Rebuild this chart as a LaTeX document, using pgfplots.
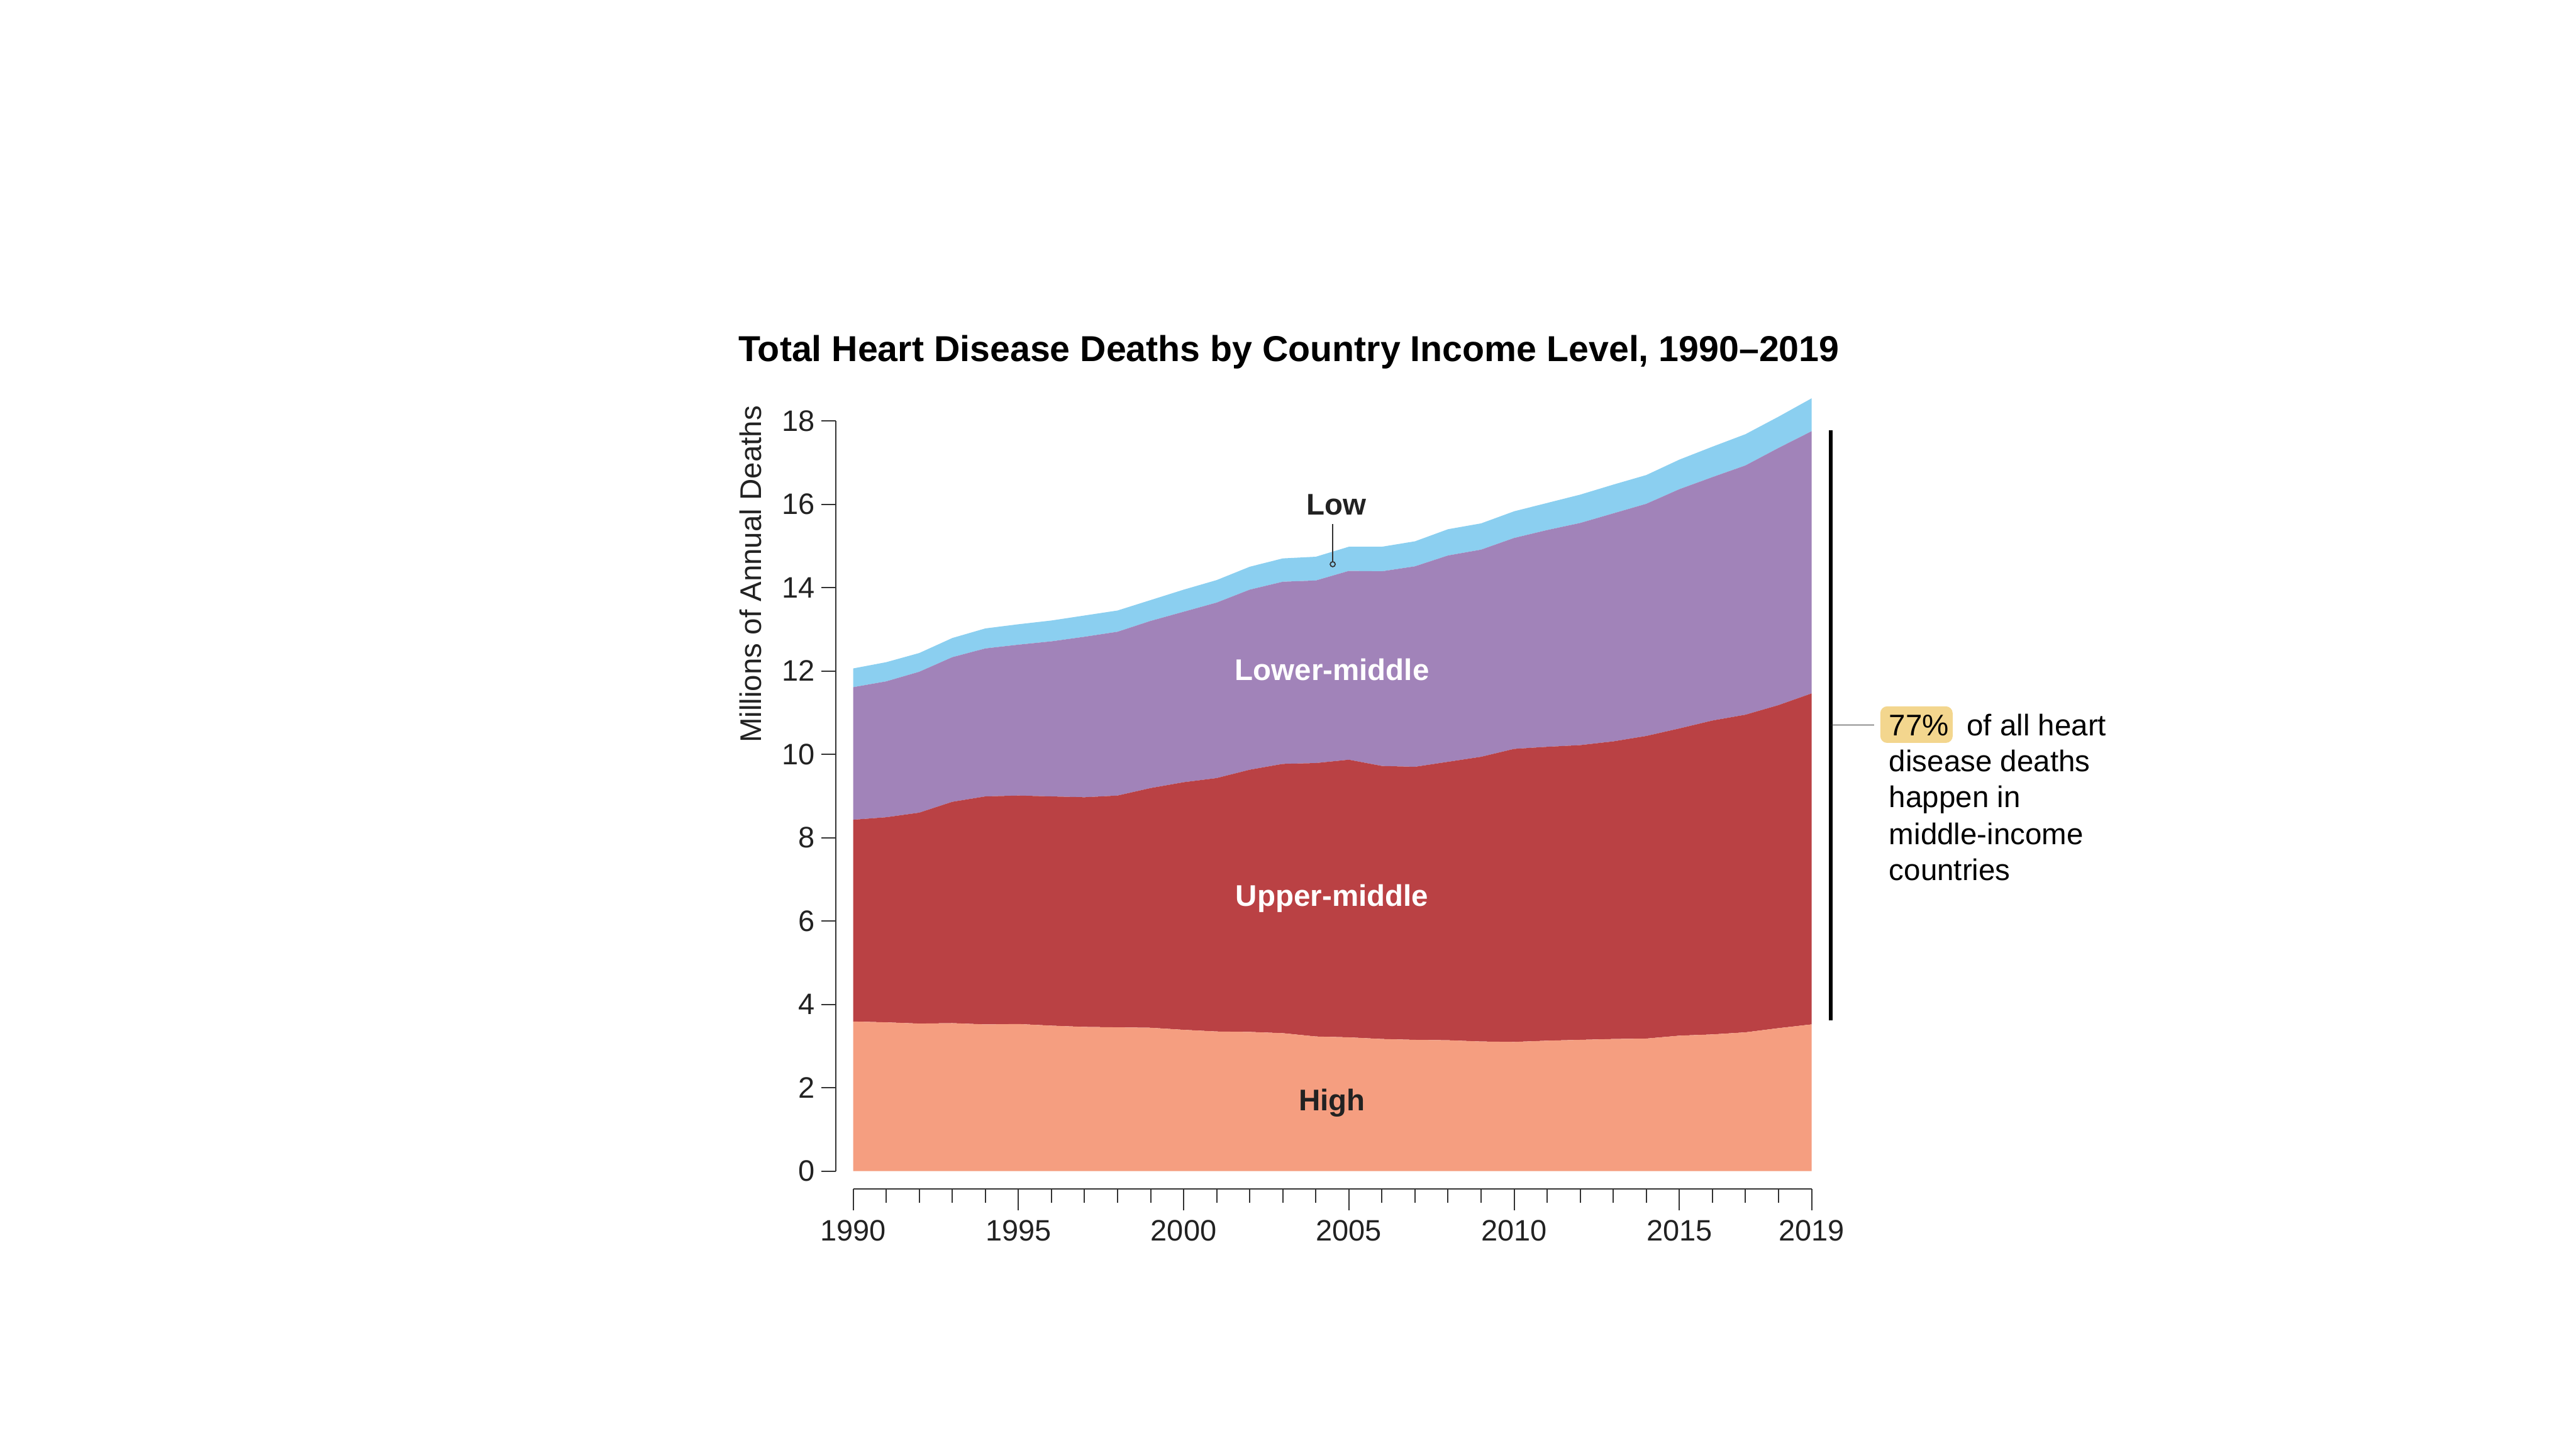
\documentclass[border=0pt]{standalone}
\usepackage{fontspec}
\setmainfont{Liberation Sans}
\usepackage{pgfplots}
\usepackage{pgfplotstable}
\pgfplotsset{compat=1.18}
\definecolor{cHigh}{HTML}{F59E80}
\definecolor{cUpper}{HTML}{BA4144}
\definecolor{cLower}{HTML}{A183B9}
\definecolor{cLow}{HTML}{8BCFF0}
\definecolor{cHi}{HTML}{F3D68E}
\definecolor{axgray}{HTML}{333333}
\definecolor{txt}{HTML}{222222}

\pgfplotstableread{
year high upper lower low
1990 3.59 4.84 3.18 0.45
1991 3.57 4.92 3.26 0.46
1992 3.54 5.06 3.38 0.45
1993 3.55 5.31 3.47 0.46
1994 3.52 5.47 3.55 0.48
1995 3.53 5.48 3.62 0.49
1996 3.49 5.50 3.72 0.50
1997 3.46 5.51 3.85 0.51
1998 3.45 5.56 3.93 0.51
1999 3.44 5.75 4.01 0.50
2000 3.39 5.94 4.09 0.53
2001 3.35 6.08 4.21 0.54
2002 3.34 6.29 4.32 0.55
2003 3.31 6.46 4.37 0.56
2004 3.23 6.56 4.38 0.57
2005 3.21 6.66 4.53 0.58
2006 3.17 6.55 4.67 0.59
2007 3.15 6.55 4.81 0.60
2008 3.14 6.68 4.95 0.63
2009 3.11 6.83 4.97 0.63
2010 3.10 7.03 5.06 0.64
2011 3.13 7.05 5.20 0.65
2012 3.15 7.07 5.33 0.68
2013 3.17 7.14 5.47 0.69
2014 3.18 7.26 5.57 0.69
2015 3.25 7.37 5.74 0.71
2016 3.28 7.53 5.84 0.73
2017 3.33 7.62 5.98 0.75
2018 3.43 7.75 6.17 0.75
2019 3.52 7.94 6.29 0.79
}\datatable

\pgfplotsset{
  common/.style={
    at={(271.32pt,88.46pt)}, anchor=south west,
    scale only axis, width=304.78pt, height=238.54pt,
    xmin=1990, xmax=2019, ymin=0, ymax=18,
    clip=false,
    tick align=outside,
    axis line style={draw=axgray, line width=0.4pt, -},
    every tick/.style={draw=axgray, line width=0.4pt},
    /pgf/number format/assume math mode=true,
    tick label style={font=\fontsize{9.4}{11}\selectfont, text=txt},
  }
}
\tikzset{lbl/.style={inner sep=0pt, font=\fontsize{9.5}{11}\selectfont}}

\begin{document}
\begin{tikzpicture}
\path[use as bounding box] (0,0) rectangle (819.2pt,460.8pt);

% x axis only
\begin{axis}[common,
  axis x line*=bottom, axis y line=none,
  axis x line shift=5.66pt,
  major tick length=6.8pt, minor tick length=4.4pt,
  xtick={1990,1995,2000,2005,2010,2015,2019},
  xticklabels={1990,1995,2000,2005,2010,2015,2019},
  xticklabel style={yshift=0.3pt},
  minor xtick={1991,1992,1993,1994,1996,1997,1998,1999,2001,2002,2003,2004,2006,2007,2008,2009,2011,2012,2013,2014,2016,2017,2018},
  ytick=\empty,
]
\end{axis}

% data + y axis
\begin{axis}[common,
  axis y line*=left, axis x line=none,
  axis y line shift=5.46pt,
  major tick length=4.6pt,
  ytick={0,2,4,6,8,10,12,14,16,18},
  yticklabel style={xshift=1.4pt},
  xtick=\empty,
  stack plots=y,
]
\addplot[fill=cHigh, draw=none] table[x=year, y=high] {\datatable} \closedcycle;
\addplot[fill=cUpper, draw=none] table[x=year, y=upper] {\datatable} \closedcycle;
\addplot[fill=cLower, draw=none] table[x=year, y=lower] {\datatable} \closedcycle;
\addplot[fill=cLow, draw=none] table[x=year, y=low] {\datatable} \closedcycle;

\coordinate (title) at (axis cs:1986.51,19.42);
\coordinate (ylab) at (axis cs:1987.21,18.38);
\coordinate (lowlab) at (axis cs:2004.62,15.75);
\coordinate (lowtop) at (axis cs:2004.51,15.52);
\coordinate (lowbot) at (axis cs:2004.51,14.625);
\coordinate (lowc) at (axis cs:2004.51,14.56);
\coordinate (lmlab) at (axis cs:2004.49,11.78);
\coordinate (umlab) at (axis cs:2004.49,6.36);
\coordinate (hilab) at (axis cs:2004.49,1.455);
\coordinate (bartop) at (axis cs:2019.585,17.77);
\coordinate (barbot) at (axis cs:2019.585,3.61);
\coordinate (tick1) at (axis cs:2019.585,10.70);
\coordinate (tick2) at (axis cs:2020.90,10.70);
\coordinate (box1) at (axis cs:2021.08,10.273);
\coordinate (box2) at (axis cs:2023.27,11.151);
\coordinate (t1) at (axis cs:2021.33,10.446);
\coordinate (t1b) at (axis cs:2023.68,10.446);
\coordinate (t2) at (axis cs:2021.33,9.587);
\coordinate (t3) at (axis cs:2021.33,8.719);
\coordinate (t4) at (axis cs:2021.33,7.836);
\coordinate (t5) at (axis cs:2021.33,6.969);
\end{axis}

% title and axis label
\node[anchor=base west, inner sep=0pt, text=black, font=\fontsize{11.46}{13}\selectfont\bfseries]
  at (title) {Total Heart Disease Deaths by Country Income Level, 1990–2019};
\node[rotate=90, anchor=base east, lbl, text=txt] at (ylab) {Millions of Annual Deaths};

% series labels
\node[anchor=base, lbl, text=txt, font=\fontsize{9.5}{11}\selectfont\bfseries] at (lowlab) {Low};
\draw[axgray, line width=0.35pt] (lowtop) -- (lowbot);
\draw[axgray, line width=0.35pt] (lowc) circle[radius=0.8pt];
\node[anchor=base, lbl, text=white, font=\fontsize{9.5}{11}\selectfont\bfseries] at (lmlab) {Lower-middle};
\node[anchor=base, lbl, text=white, font=\fontsize{9.5}{11}\selectfont\bfseries] at (umlab) {Upper-middle};
\node[anchor=base, lbl, text=txt, font=\fontsize{9.5}{11}\selectfont\bfseries] at (hilab) {High};

% annotation
\draw[black, line width=1.2pt] (barbot) -- (bartop);
\draw[axgray, line width=0.3pt] (tick1) -- (tick2);
\fill[cHi, rounded corners=2.2pt] (box1) rectangle (box2);
\node[anchor=base west, lbl, text=black] at (t1) {77\%};
\node[anchor=base west, lbl, text=black] at (t1b) {of all heart};
\node[anchor=base west, lbl, text=black] at (t2) {disease deaths};
\node[anchor=base west, lbl, text=black] at (t3) {happen in};
\node[anchor=base west, lbl, text=black] at (t4) {middle-income};
\node[anchor=base west, lbl, text=black] at (t5) {countries};
\end{tikzpicture}
\end{document}
